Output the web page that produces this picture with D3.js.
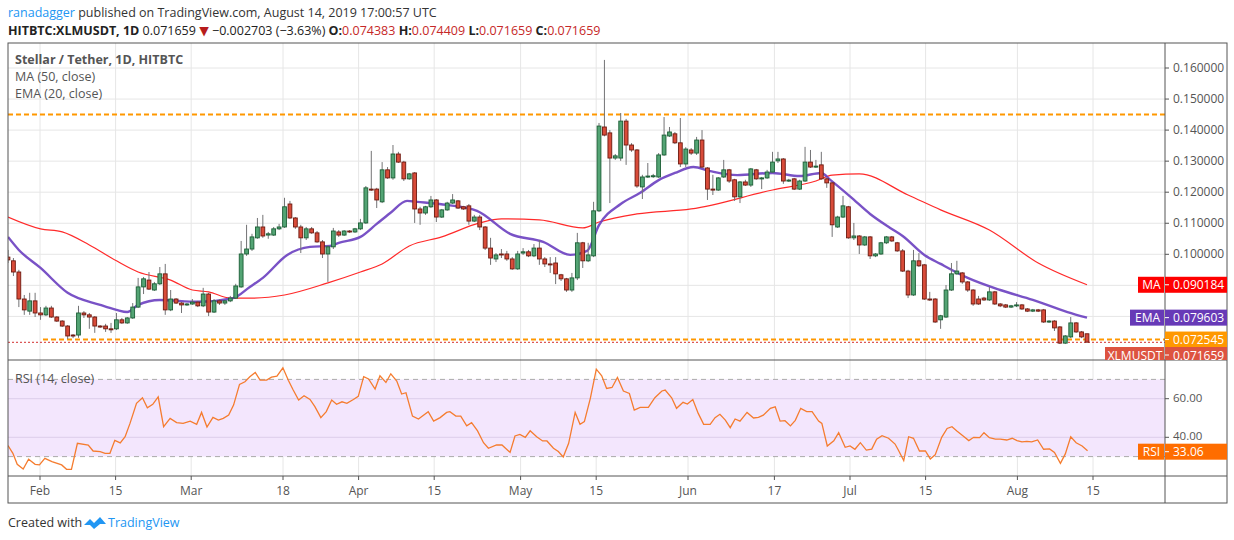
<!DOCTYPE html>
<html><head><meta charset="utf-8">
<script src="https://cdn.jsdelivr.net/npm/d3@7"></script>
<style>
body{margin:0;background:#fff;font-family:"Open Sans","DejaVu Sans",sans-serif;}
</style></head>
<body><svg id="viz" width="1234" height="540"></svg>
<script>
// daily candles, [open, high, low, close], Jan 26 .. Aug 14 2019
var ohlc = [
[.0991,.1014,.0972,.0982],[.0979,.0988,.0930,.0943],[.0943,.0950,.0830,.0856],[.0856,.0869,.0805,.0821],
[.0817,.0876,.0805,.0850],[.0850,.0876,.0798,.0811],[.0811,.0830,.0789,.0805],[.0805,.0834,.0801,.0827],
[.0827,.0834,.0795,.0798],[.0798,.0801,.0782,.0785],[.0785,.0788,.0766,.0769],[.0769,.0772,.0727,.0737],
[.0740,.0743,.0730,.0737],[.0740,.0834,.0731,.0811],[.0811,.0817,.0795,.0805],[.0805,.0811,.0760,.0798],
[.0798,.0801,.0747,.0769],[.0769,.0772,.0763,.0767],[.0769,.0776,.0750,.0760],[.0760,.0779,.0747,.0758],
[.0760,.0811,.0756,.0789],[.0789,.0795,.0776,.0779],[.0779,.0798,.0776,.0795],[.0795,.0843,.0792,.0830],
[.0830,.0924,.0827,.0895],[.0895,.0927,.0872,.0921],[.0917,.0943,.0885,.0888],[.0885,.0911,.0882,.0905],
[.0905,.0959,.0901,.0937],[.0937,.0969,.0805,.0821],[.0821,.0885,.0817,.0856],[.0856,.0859,.0840,.0843],
[.0843,.0846,.0811,.0837],[.0837,.0843,.0834,.0840],[.0840,.0856,.0837,.0846],[.0846,.0850,.0830,.0834],
[.0834,.0892,.0830,.0872],[.0872,.0876,.0801,.0814],[.0814,.0856,.0811,.0850],[.0850,.0856,.0837,.0843],
[.0843,.0853,.0837,.0850],[.0850,.0866,.0846,.0859],[.0859,.0905,.0856,.0898],[.0895,.1043,.0892,.1001],
[.1001,.1095,.0995,.1017],[.1017,.1066,.1011,.1056],[.1053,.1117,.1050,.1088],[.1088,.1127,.1053,.1059],
[.1062,.1072,.1050,.1066],[.1062,.1088,.1059,.1082],[.1082,.1098,.1078,.1088],[.1088,.1182,.1085,.1153],
[.1162,.1172,.1114,.1117],[.1117,.1120,.1082,.1088],[.1088,.1095,.1004,.1053],[.1053,.1088,.1046,.1082],
[.1082,.1088,.1066,.1069],[.1069,.1075,.1037,.1040],[.1040,.1046,.0988,.1001],[.1001,.1030,.0911,.1024],
[.1024,.1085,.1017,.1075],[.1072,.1078,.1056,.1062],[.1062,.1078,.1059,.1075],[.1075,.1078,.1069,.1072],
[.1072,.1085,.1069,.1082],[.1082,.1114,.1078,.1101],[.1101,.1220,.1098,.1214],[.1210,.1333,.1204,.1207],
[.1210,.1214,.1149,.1175],[.1169,.1297,.1165,.1272],[.1272,.1281,.1243,.1246],[.1246,.1352,.1240,.1323],
[.1323,.1330,.1294,.1297],[.1297,.1301,.1236,.1243],[.1243,.1262,.1240,.1259],[.1262,.1265,.1101,.1146],
[.1146,.1153,.1095,.1133],[.1133,.1156,.1127,.1153],[.1153,.1188,.1149,.1175],[.1175,.1178,.1104,.1120],
[.1120,.1146,.1117,.1143],[.1143,.1169,.1140,.1165],[.1165,.1194,.1162,.1175],[.1172,.1175,.1146,.1149],
[.1153,.1156,.1143,.1146],[.1156,.1162,.1095,.1107],[.1107,.1127,.1104,.1120],[.1120,.1127,.1078,.1088],
[.1088,.1091,.1014,.1020],[.1020,.1053,.0966,.0988],[.0985,.1004,.0975,.0998],[.1001,.1017,.0988,.0998],
[.1001,.1011,.0979,.0985],[.0985,.0991,.0950,.0953],[.0953,.1011,.0950,.1001],[.1004,.1020,.0998,.1008],
[.1008,.1014,.0991,.0995],[.0995,.1033,.0991,.1020],[.1020,.1046,.0966,.0985],[.0985,.0991,.0959,.0969],
[.0969,.0991,.0940,.0966],[.0972,.0991,.0904,.0937],[.0934,.0937,.0914,.0921],[.0921,.0924,.0879,.0885],
[.0885,.0940,.0879,.0924],[.0924,.1069,.0917,.1037],[.1037,.1040,.0956,.0979],[.0979,.1037,.0975,.0998],
[.0995,.1169,.0991,.1140],[.1140,.1423,.1136,.1413],[.1410,.1626,.1380,.1384],[.1391,.1400,.1165,.1310],
[.1310,.1323,.1304,.1317],[.1310,.1455,.1301,.1429],[.1429,.1436,.1288,.1352],[.1352,.1358,.1330,.1336],
[.1336,.1339,.1214,.1220],[.1217,.1256,.1178,.1249],[.1249,.1294,.1246,.1252],[.1252,.1259,.1246,.1253],
[.1249,.1326,.1246,.1320],[.1320,.1442,.1317,.1384],[.1381,.1410,.1378,.1394],[.1388,.1394,.1355,.1359],
[.1359,.1439,.1281,.1291],[.1291,.1345,.1281,.1339],[.1336,.1342,.1320,.1326],[.1326,.1378,.1320,.1368],
[.1368,.1400,.1278,.1281],[.1278,.1281,.1175,.1210],[.1210,.1256,.1191,.1207],[.1207,.1249,.1204,.1246],
[.1249,.1304,.1246,.1272],[.1272,.1275,.1230,.1236],[.1240,.1243,.1172,.1185],[.1185,.1236,.1165,.1233],
[.1233,.1240,.1220,.1223],[.1223,.1278,.1217,.1275],[.1272,.1275,.1240,.1243],[.1243,.1249,.1210,.1246],
[.1246,.1272,.1243,.1265],[.1265,.1330,.1262,.1297],[.1301,.1330,.1294,.1307],[.1307,.1310,.1227,.1236],
[.1236,.1243,.1233,.1239],[.1243,.1246,.1207,.1210],[.1210,.1240,.1207,.1236],[.1236,.1346,.1233,.1297],
[.1297,.1336,.1278,.1281],[.1281,.1304,.1278,.1284],[.1288,.1330,.1240,.1243],[.1243,.1246,.1214,.1230],
[.1230,.1233,.1056,.1095],[.1088,.1124,.1085,.1120],[.1120,.1188,.1117,.1156],[.1153,.1156,.1050,.1053],
[.1053,.1101,.1046,.1059],[.1059,.1062,.1001,.1030],[.1030,.1059,.1027,.1056],[.1056,.1059,.0985,.0995],
[.0995,.1004,.0991,.1001],[.1001,.1040,.0998,.1037],[.1037,.1059,.1033,.1056],[.1056,.1059,.1040,.1043],
[.1037,.1040,.1008,.1011],[.1011,.1017,.0943,.0946],[.0946,.0950,.0859,.0869],[.0869,.1014,.0866,.0979],
[.0979,.1004,.0959,.0963],[.0966,.0969,.0853,.0856],[.0856,.0879,.0850,.0853],[.0856,.0859,.0779,.0782],
[.0789,.0805,.0760,.0802],[.0798,.0901,.0795,.0885],[.0885,.0972,.0882,.0937],[.0937,.0979,.0934,.0946],
[.0940,.0943,.0905,.0911],[.0911,.0914,.0879,.0885],[.0885,.0888,.0834,.0840],[.0856,.0866,.0837,.0840],
[.0859,.0863,.0850,.0853],[.0853,.0895,.0850,.0879],[.0879,.0882,.0837,.0840],[.0840,.0843,.0830,.0834],
[.0837,.0840,.0827,.0830],[.0830,.0837,.0827,.0834],[.0834,.0846,.0830,.0837],[.0837,.0840,.0821,.0824],
[.0824,.0827,.0814,.0817],[.0817,.0824,.0814,.0821],[.0821,.0824,.0814,.0817],[.0821,.0824,.0779,.0782],
[.0782,.0788,.0779,.0785],[.0785,.0788,.0753,.0763],[.0766,.0769,.0711,.0714],[.0714,.0740,.0711,.0737],
[.0734,.0798,.0730,.0779],[.0779,.0782,.0747,.0750],[.0750,.0753,.0730,.0734],[.0744,.0744,.0717,.0717]
];

// MA(50) and EMA(20) read at candle indices: [index, value]
var ma50 = [[0,.1120],[6,.1082],[10,.1072],[15,.1030],[20,.0979],[24,.0943],[30,.0917],[34,.0885],[37,.0879],
[41,.0859],[45,.0859],[51,.0869],[59,.0908],[65,.0943],[69,.0969],[74,.1027],[80,.1056],[87,.1101],[91,.1114],
[98,.1111],[106,.1085],[109,.1104],[116,.1130],[126,.1146],[141,.1207],[149,.1236],[152,.1255],[157,.1259],
[166,.1191],[172,.1143],[181,.1078],[190,.0972],[199,.0902]];
var ema20 = [[0,.1056],[2,.1014],[6,.0956],[11,.0876],[17,.0837],[20,.0821],[22,.0814],[24,.0837],[28,.0853],
[35,.0847],[41.5,.0859],[44.6,.0895],[47,.0924],[51.5,.0998],[55.7,.1024],[59.4,.1027],[61,.1037],[65,.1056],
[68,.1098],[70.5,.1133],[73.6,.1172],[75.5,.1169],[81,.1159],[86.5,.1140],[92.6,.1066],[98.7,.1040],
[103.7,.0998],[106.8,.1011],[109,.1094],[113,.1162],[116.6,.1198],[120,.1239],[123,.1262],[126.4,.1281],
[129.5,.1268],[134.5,.1255],[141,.1262],[146,.1252],[150,.1262],[151.7,.1239],[155.4,.1185],[159,.1130],
[162.7,.1085],[165,.1059],[169,.0998],[172,.0969],[177,.0924],[183,.0885],[189,.0853],[195.4,.0814],[199,.0796]];

// RSI(14): [index, value]
var rsi14 = [[0,35.7],[.9,31.7],[1.7,26.0],[2.8,23.6],[3.8,28.6],[5,26.0],[5.8,25.7],[6.8,29.1],[8.1,27.4],
[9.9,25.7],[10.8,23.4],[11.7,23.4],[12.8,36.9],[14.8,36.0],[15.7,32.9],[17,32.6],[17.9,31.7],[18.8,31.7],
[19.7,38.4],[20.7,37.1],[21.6,40.3],[22.5,47.2],[23.7,57.6],[24.8,60.5],[25.7,55.3],[26.7,57.1],[27.7,61.0],
[28.7,45.5],[29.9,49.8],[31.1,47.6],[32.3,47.2],[33.6,48.4],[34.8,46.7],[35.7,52.9],[36.7,45.3],[37.8,50.3],
[38.8,48.9],[39.7,49.8],[40.7,51.5],[41.6,56.7],[42.7,67.4],[43.7,68.8],[44.6,71.4],[45.6,73.6],[46.5,69.6],
[47.7,69.6],[48.6,71.2],[49.6,71.7],[50.7,76.0],[51.7,69.6],[52.6,64.5],[53.6,59.3],[54.6,61.5],[55.7,59.6],
[56.6,55.9],[57.7,50.2],[58.7,53.3],[59.7,59.3],[60.6,57.1],[61.6,58.4],[62.5,57.6],[63.7,59.6],[64.6,61.2],
[65.6,71.4],[66.5,70.2],[67.7,65.0],[68.6,71.9],[69.7,68.4],[70.6,72.9],[71.7,69.1],[72.6,62.4],[73.4,63.1],
[74.6,51.0],[75.7,49.5],[77.5,53.3],[78.5,48.4],[79.7,50.2],[80.9,52.9],[81.5,53.3],[82.6,51.0],[83.5,51.0],
[84.6,45.9],[85.5,47.6],[86.6,43.3],[87.7,37.2],[88.6,34.3],[90.1,36.0],[91.1,36.0],[92.6,32.2],[93.5,40.7],
[94.4,41.5],[95.4,40.0],[96.3,43.4],[97.5,40.3],[98.6,38.1],[99.4,38.1],[100.6,34.3],[101.5,32.6],[102.4,29.8],
[103.4,36.9],[104.6,52.9],[105.5,46.7],[106.3,48.1],[107.4,60.2],[108.5,75.3],[109.5,71.9],[110.4,65.3],
[111.4,65.8],[112.4,71.0],[113.5,64.0],[114.6,62.7],[115.5,54.1],[116.6,55.5],[118.1,55.5],[119.3,60.5],
[120.6,64.0],[121.2,64.5],[122.4,60.5],[123.3,55.0],[124.5,58.1],[125.3,57.2],[126.3,59.6],[127.3,52.4],
[128.3,46.7],[129.5,46.7],[130.4,50.2],[131.3,51.9],[132.3,48.9],[133.2,45.0],[134.1,49.5],[135,48.4],
[136.3,52.9],[137.5,50.0],[138.4,50.3],[139.3,51.5],[140.6,55.0],[141.5,55.8],[142.4,48.4],[143.3,48.6],
[144.3,45.9],[145.2,48.8],[146.2,55.0],[147.3,53.3],[148.3,53.3],[149.5,48.4],[150.1,47.2],[151.1,35.5],
[152.3,38.2],[153.2,42.4],[154.4,34.8],[155.3,35.5],[156.2,33.8],[157.2,37.2],[158.3,33.4],[159.3,33.9],
[160.2,39.0],[161.2,40.8],[162.4,39.5],[163.6,36.5],[164.2,33.4],[165.2,27.9],[166.1,40.3],[167,39.5],
[168.1,32.9],[169.2,32.9],[170.1,28.8],[171,30.9],[172.2,40.0],[173.2,44.6],[174.1,45.5],[175,43.3],
[176.1,40.8],[177.2,38.3],[178.1,40.0],[179.2,39.8],[180,42.4],[181,39.8],[182.1,39.1],[183,39.1],[184.2,38.6],
[185.2,39.5],[186.1,38.3],[187,37.6],[187.9,37.9],[188.8,37.6],[189.9,38.6],[191,33.8],[192.1,34.0],[193,32.1],
[194.1,26.5],[195,31.4],[196,40.3],[197,37.2],[198.1,35.5],[199.1,33.06]];

var priceTicks = [0.10,0.11,0.12,0.13,0.14,0.15,0.16];
var priceGrid = [0.08,0.09,0.10,0.11,0.12,0.13,0.14,0.15,0.16];
var rsiTicks = [40,60];
var timeTicks = [["2019-02-01","Feb"],["2019-02-15","15"],["2019-03-01","Mar"],["2019-03-18","18"],
  ["2019-04-01","Apr"],["2019-04-15","15"],["2019-05-01","May"],["2019-05-15","15"],["2019-06-01","Jun"],
  ["2019-06-17","17"],["2019-07-01","Jul"],["2019-07-15","15"],["2019-08-01","Aug"],["2019-08-15","15"]];
var resistance = 0.145, support = 0.072545, lastPrice = 0.071659;
var maLast = 0.090184, emaLast = 0.079603, rsiLast = 33.06;

var L = 8, R = 1165, W = 1227;
var mainTop = 43, mainBot = 360, rsiBot = 476, axBot = 503;

var svg = d3.select("#viz");
var x = d3.scaleLinear().domain([0, ohlc.length-1]).range([8, 1087]);
var xt = d3.scaleTime().domain([new Date(2019,1,1), new Date(2019,7,15)]).range([40, 1093]);
var y = d3.scaleLinear().domain([0.1, 0.16]).range([254.3, 68]);
var yr = d3.scaleLinear().domain([40, 60]).range([437.3, 398.7]);

var defs = svg.append("defs");
defs.append("clipPath").attr("id","cm").append("rect").attr("x",L).attr("y",mainTop).attr("width",R-L).attr("height",mainBot-mainTop);
defs.append("clipPath").attr("id","cr").append("rect").attr("x",L).attr("y",mainBot).attr("width",R-L).attr("height",rsiBot-mainBot);

// header
var h1 = svg.append("text").attr("x",8).attr("y",17).style("font-size","12.5px");
h1.append("tspan").attr("fill","#2196f3").text("ranadagger");
h1.append("tspan").attr("fill","#333").text(" published on TradingView.com, August 14, 2019 17:00:57 UTC");
var h2 = svg.append("text").attr("x",8).attr("y",35).style("font-size","12.5px").attr("fill","#222");
h2.append("tspan").attr("font-weight","bold").text("HITBTC:XLMUSDT, 1D");
h2.append("tspan").text("  0.071659 ");
h2.append("tspan").attr("fill","#b71c1c").text("▼");
h2.append("tspan").text(" \u22120.002703 (\u22123.63%) ");
[["O:","0.074383"],["H:","0.074409"],["L:","0.071659"],["C:","0.071659"]].forEach(function(p){
  h2.append("tspan").attr("font-weight","bold").text(" "+p[0]);
  h2.append("tspan").attr("fill","#c62828").text(p[1]);
});

// grids
var grid = svg.append("g").attr("stroke","#e6e6e6");
timeTicks.forEach(function(t){
  var xx = xt(new Date(t[0]+"T00:00"));
  grid.append("line").attr("x1",xx).attr("x2",xx).attr("y1",mainTop).attr("y2",rsiBot);
});
priceGrid.forEach(function(p){
  grid.append("line").attr("x1",L).attr("x2",R).attr("y1",y(p)).attr("y2",y(p));
});

// rsi band
svg.append("rect").attr("x",L).attr("width",R-L).attr("y",yr(70)).attr("height",yr(30)-yr(70)).attr("fill","#f3e6fd");
rsiTicks.forEach(function(v){
  svg.append("line").attr("x1",L).attr("x2",R).attr("y1",yr(v)).attr("y2",yr(v)).attr("stroke","#dccdea");
});
[70,30].forEach(function(v){
  svg.append("line").attr("x1",L).attr("x2",R).attr("y1",yr(v)).attr("y2",yr(v))
    .attr("stroke","#aaa").attr("stroke-dasharray","5,4");
});

// horizontal levels
var mg = svg.append("g").attr("clip-path","url(#cm)");
mg.append("line").attr("x1",L).attr("x2",R).attr("y1",y(resistance)).attr("y2",y(resistance))
  .attr("stroke","#ff9800").attr("stroke-width",2).attr("stroke-dasharray","5,3");
mg.append("line").attr("x1",43).attr("x2",R).attr("y1",y(support)).attr("y2",y(support))
  .attr("stroke","#ff9800").attr("stroke-width",2).attr("stroke-dasharray","5,3");
mg.append("line").attr("x1",L).attr("x2",R).attr("y1",y(lastPrice)).attr("y2",y(lastPrice))
  .attr("stroke","#d32f2f").attr("stroke-dasharray","2,2");

// averages
var line = d3.line().x(function(d){return x(d[0]);}).y(function(d){return y(d[1]);}).curve(d3.curveMonotoneX);
mg.append("path").attr("d",line(ma50)).attr("fill","none").attr("stroke","#ff2a2a").attr("stroke-width",1.2);
mg.append("path").attr("d",line(ema20)).attr("fill","none").attr("stroke","#6a3fc0").attr("stroke-width",2.4).attr("opacity",0.9);

// candles
var cw = 3.8;
var c = mg.selectAll("g.c").data(ohlc).enter().append("g");
c.append("line").attr("x1",function(d,i){return x(i);}).attr("x2",function(d,i){return x(i);})
  .attr("y1",function(d){return y(d[1]);}).attr("y2",function(d){return y(d[2]);}).attr("stroke","#737375");
c.append("rect").attr("x",function(d,i){return x(i)-cw/2;}).attr("width",cw)
  .attr("y",function(d){return y(Math.max(d[0],d[3]));})
  .attr("height",function(d){return Math.max(1,Math.abs(y(d[0])-y(d[3])));})
  .attr("fill",function(d){return d[3]>=d[0]?"#53a474":"#d84b39";})
  .attr("stroke",function(d){return d[3]>=d[0]?"#1b5e35":"#6d1a10";}).attr("stroke-width",0.9);

// rsi
var rl = d3.line().x(function(d){return x(d[0]);}).y(function(d){return yr(d[1]);});
svg.append("g").attr("clip-path","url(#cr)").append("path").attr("d",rl(rsi14))
  .attr("fill","none").attr("stroke","#f57c2f").attr("stroke-width",1.3);

// legends
var lg = svg.append("g").attr("fill","#555").style("font-size","12.5px");
lg.append("text").attr("x",15).attr("y",64).attr("font-weight","bold").text("Stellar / Tether, 1D, HITBTC");
lg.append("text").attr("x",15).attr("y",81).text("MA (50, close)");
lg.append("text").attr("x",15).attr("y",98).text("EMA (20, close)");
lg.append("text").attr("x",15).attr("y",383).text("RSI (14, close)");

// frame
var fr = svg.append("g").attr("stroke","#555").attr("fill","none");
fr.append("rect").attr("x",L).attr("y",mainTop).attr("width",W-L).attr("height",axBot-mainTop);
fr.append("line").attr("x1",R).attr("x2",R).attr("y1",mainTop).attr("y2",axBot);
fr.append("line").attr("x1",L).attr("x2",W).attr("y1",mainBot).attr("y2",mainBot);
fr.append("line").attr("x1",L).attr("x2",W).attr("y1",rsiBot).attr("y2",rsiBot);

// price axis
var ax = svg.append("g").style("font-size","12px").attr("fill","#555");
priceTicks.forEach(function(p){
  ax.append("line").attr("x1",R).attr("x2",R+4).attr("y1",y(p)).attr("y2",y(p)).attr("stroke","#555");
  ax.append("text").attr("x",R+8).attr("y",y(p)+4).text(p.toFixed(6));
});
rsiTicks.forEach(function(v){
  ax.append("line").attr("x1",R).attr("x2",R+4).attr("y1",yr(v)).attr("y2",yr(v)).attr("stroke","#555");
  ax.append("text").attr("x",R+8).attr("y",yr(v)+3).style("font-size","11.5px").text(v.toFixed(2));
});
timeTicks.forEach(function(t){
  var xx = xt(new Date(t[0]+"T00:00"));
  ax.append("line").attr("x1",xx).attr("x2",xx).attr("y1",rsiBot).attr("y2",rsiBot+4).attr("stroke","#555");
  ax.append("text").attr("x",xx).attr("y",495).attr("text-anchor","middle").text(t[1]);
});

function tag(yy, name, nameX, val, col, clip){
  var g = svg.append("g");
  if (clip) g.attr("clip-path","url(#cm2)");
  g.append("rect").attr("x",R).attr("y",yy-8).attr("width",62).attr("height",16).attr("fill",col);
  if (name) {
    g.append("rect").attr("x",nameX).attr("y",yy-8).attr("width",R-nameX-1).attr("height",16).attr("fill",col);
    g.append("text").attr("x",(nameX+R)/2).attr("y",yy+4.5).attr("text-anchor","middle").attr("fill","#fff")
      .style("font-size","12px").text(name);
  }
  g.append("line").attr("x1",R).attr("x2",R+4).attr("y1",yy).attr("y2",yy).attr("stroke","#fff");
  g.append("text").attr("x",R+8).attr("y",yy+4.5).attr("fill","#fff").style("font-size","12px").text(val);
}
defs.append("clipPath").attr("id","cm2").append("rect").attr("x",0).attr("y",mainTop).attr("width",W).attr("height",mainBot-mainTop);
tag(y(maLast),"MA",1138,maLast.toFixed(6),"#ff0000");
tag(y(emaLast),"EMA",1130,emaLast.toFixed(6),"#673ab7");
tag(y(support),null,0,support.toFixed(6),"#ff9800");
tag(355,"XLMUSDT",1105,lastPrice.toFixed(6),"#dd5340",true);
tag(yr(rsiLast)+1,"RSI",1138,rsiLast.toFixed(2),"#ff6d00");

// footer
svg.append("text").attr("x",8).attr("y",527).attr("fill","#333").style("font-size","12.5px").text("Created with");
var lo = svg.append("g").attr("transform","translate(84,516)");
lo.append("path").attr("d","M0,9 L6,3 L10,7 L16,1 L22,8 L16,8 L10,13 L6,9 Z").attr("fill","#2196f3");
svg.append("text").attr("x",108).attr("y",527).attr("fill","#2196f3").style("font-size","12.5px").text("TradingView");
</script></body></html>
